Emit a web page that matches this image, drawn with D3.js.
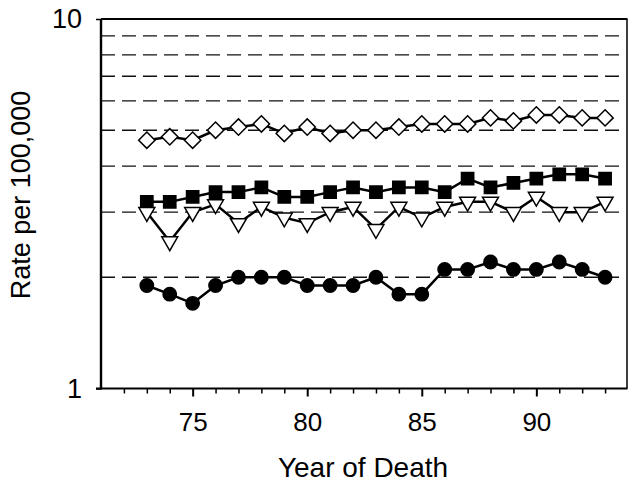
<!DOCTYPE html>
<html>
<head>
<meta charset="utf-8">
<script src="https://cdn.jsdelivr.net/npm/d3@7"></script>
<style>
  body { margin: 0; background: #fff; }
  svg { display: block; font-family: "Liberation Sans", Arial, sans-serif; }
</style>
</head>
<body>
<div id="chart"></div>
<script>
// data
var years = [73, 74, 75, 76, 77, 78, 79, 80, 81, 82, 83, 84, 85, 86, 87, 88, 89, 90, 91, 92, 93];
var diamondVals  = [4.7, 4.8, 4.7, 5.0, 5.1, 5.2, 4.9, 5.1, 4.9, 5.0, 5.0, 5.1, 5.2, 5.2, 5.2, 5.4, 5.3, 5.5, 5.5, 5.4, 5.4];
var squareVals   = [3.2, 3.2, 3.3, 3.4, 3.4, 3.5, 3.3, 3.3, 3.4, 3.5, 3.4, 3.5, 3.5, 3.4, 3.7, 3.5, 3.6, 3.7, 3.8, 3.8, 3.7];
var triangleVals = [3.0, 2.5, 3.0, 3.15, 2.8, 3.1, 2.9, 2.8, 3.0, 3.1, 2.7, 3.1, 2.9, 3.1, 3.2, 3.2, 3.0, 3.3, 3.0, 3.0, 3.2];
var circleVals   = [1.9, 1.8, 1.7, 1.9, 2.0, 2.0, 2.0, 1.9, 1.9, 1.9, 2.0, 1.8, 1.8, 2.1, 2.1, 2.2, 2.1, 2.1, 2.2, 2.1, 2.0];
var xTickLabels = [75, 80, 85, 90];
var yTickLabels = [1, 10];
var gridVals = [2, 3, 4, 5, 6, 7, 8, 9];

var width = 628, height = 483;

var svg = d3.select("#chart").append("svg")
    .attr("width", width)
    .attr("height", height);

// scales
var x = d3.scaleLinear().domain([71, 94]).range([101, 628]);
var y = d3.scaleLog().domain([1, 10]).range([388.5, 19]);

// dashed grid lines
svg.append("g")
    .selectAll("line")
    .data(gridVals)
    .enter().append("line")
    .attr("x1", x(71))
    .attr("x2", 626)
    .attr("y1", d => y(d))
    .attr("y2", d => y(d))
    .attr("stroke", "#111")
    .attr("stroke-width", 1.3)
    .attr("stroke-dasharray", "14,7");

// frame top + right
svg.append("line")
    .attr("x1", x(71)).attr("x2", 627.5)
    .attr("y1", y(10)).attr("y2", y(10))
    .attr("stroke", "#000").attr("stroke-width", 2);
svg.append("line")
    .attr("x1", 627).attr("x2", 627)
    .attr("y1", y(10)).attr("y2", y(1))
    .attr("stroke", "#000").attr("stroke-width", 1.5);

// x axis: minor ticks each year, longer ticks every 5
var xAxisG = svg.append("g").attr("transform", "translate(0," + y(1) + ")");
xAxisG.call(d3.axisBottom(x)
        .tickValues(d3.range(72, 94))
        .tickSize(5)
        .tickFormat(""))
    .call(g => g.select(".domain").remove());
xAxisG.selectAll(".tick line").attr("stroke-width", 1.5);
xAxisG.selectAll(".tick")
    .filter(d => d % 5 === 0)
    .select("line").attr("y2", 8).attr("stroke-width", 2);

svg.append("g")
    .attr("transform", "translate(0," + y(1) + ")")
    .call(d3.axisBottom(x).tickValues(xTickLabels).tickSize(0).tickPadding(24))
    .call(g => g.select(".domain").remove())
    .selectAll("text")
    .attr("font-size", 26)
    .attr("font-family", "Liberation Sans, Arial, sans-serif")
    .attr("fill", "#000");

svg.append("line")
    .attr("x1", 96).attr("x2", 627.5)
    .attr("y1", y(1)).attr("y2", y(1))
    .attr("stroke", "#000").attr("stroke-width", 2.2);

// y axis
var yAxisG = svg.append("g").attr("transform", "translate(" + x(71) + ",0)");
yAxisG.call(d3.axisLeft(y).tickValues(yTickLabels).tickSize(5).tickPadding(14).tickFormat(d3.format("d")))
    .call(g => g.select(".domain").remove());
yAxisG.selectAll(".tick line").attr("stroke-width", 1.5);
yAxisG.selectAll("text")
    .attr("font-size", 27)
    .attr("font-family", "Liberation Sans, Arial, sans-serif")
    .attr("fill", "#000");

svg.append("line")
    .attr("x1", x(71)).attr("x2", x(71))
    .attr("y1", y(10)).attr("y2", y(1) + 1)
    .attr("stroke", "#000").attr("stroke-width", 2.4);

// axis titles
svg.append("text")
    .attr("x", 363)
    .attr("y", 477)
    .attr("text-anchor", "middle")
    .attr("font-size", 28)
    .text("Year of Death");

svg.append("text")
    .attr("transform", "translate(30,195) rotate(-90)")
    .attr("text-anchor", "middle")
    .attr("font-size", 27)
    .text("Rate per 100,000");

// series
var series = [
    {name: "diamond", vals: diamondVals, symbol: d3.symbolDiamond2, size: 170, fill: "#fff"},
    {name: "square", vals: squareVals, symbol: d3.symbolSquare, size: 150, fill: "#000"},
    {name: "triangle", vals: triangleVals, symbol: d3.symbolTriangle, size: 110, fill: "#fff", rotate: 180},
    {name: "circle", vals: circleVals, symbol: d3.symbolCircle, size: 140, fill: "#000"}
];

var line = d3.line()
    .x(d => x(d.year))
    .y(d => y(d.val));

series.forEach(function (s) {
    var pts = years.map((yr, i) => ({year: yr, val: s.vals[i]}));
    var g = svg.append("g").attr("class", "series " + s.name);

    g.append("path")
        .datum(pts)
        .attr("d", line)
        .attr("fill", "none")
        .attr("stroke", "#000")
        .attr("stroke-width", 2.5);

    g.selectAll(".pt")
        .data(pts)
        .enter().append("path")
        .attr("class", "pt")
        .attr("d", d3.symbol().type(s.symbol).size(s.size))
        .attr("transform", d => "translate(" + x(d.year) + "," + y(d.val) + ")" + (s.rotate ? " rotate(" + s.rotate + ")" : ""))
        .attr("fill", s.fill)
        .attr("stroke", "#000")
        .attr("stroke-width", 1.5);
});
</script>
</body>
</html>
